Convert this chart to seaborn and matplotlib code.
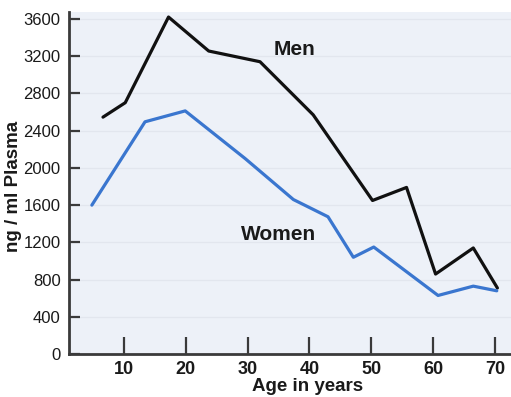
import numpy as np
import pandas as pd
import seaborn as sns
import matplotlib.pyplot as plt

# values
men_age = [6.6, 10.2, 17.2, 23.7, 32.0, 40.6, 50.2, 55.7, 60.4, 66.5, 70.4]
men_level = [2545, 2700, 3620, 3255, 3140, 2570, 1650, 1790, 860, 1140, 710]
women_age = [4.8, 13.4, 19.9, 29.6, 37.4, 43.0, 47.1, 50.4, 60.8, 66.5, 70.3]
women_level = [1600, 2495, 2612, 2100, 1660, 1475, 1040, 1150, 630, 730, 680]

x_ticks = [10, 20, 30, 40, 50, 60, 70]
y_ticks = [0, 400, 800, 1200, 1600, 2000, 2400, 2800, 3200, 3600]

custom_params = {
    "axes.spines.right": False,
    "axes.spines.top": False,
    "axes.facecolor": "#edf1f8",
    "axes.edgecolor": "#3a3a3a",
    "axes.linewidth": 2.0,
}
sns.set_theme(style="ticks", rc=custom_params)
plt.rcParams["font.family"] = ["Liberation Sans", "DejaVu Sans"]

fig = plt.figure(figsize=(5.11, 3.97), dpi=100)
ax = fig.add_axes([0.135, 0.108, 0.865, 0.862])

df_men = pd.DataFrame({"age": men_age, "level": men_level})
df_women = pd.DataFrame({"age": women_age, "level": women_level})

sns.lineplot(data=df_men, x="age", y="level", color="#111111", linewidth=2.3, ax=ax)
sns.lineplot(data=df_women, x="age", y="level", color="#3a76cf", linewidth=2.3, ax=ax)

ax.set_xlim(1.1, 72.6)
ax.set_ylim(0, 3675)
ax.set_xticks(x_ticks)
ax.set_yticks(y_ticks)
ax.yaxis.grid(True, color="#e2e6ee", linewidth=0.9)
ax.set_axisbelow(True)

ax.tick_params(axis="x", direction="in", length=12, width=1.6, color="#3a3a3a",
               pad=5, labelsize=13, labelcolor="#1a1a1a")
ax.tick_params(axis="y", direction="in", length=8, width=1.6, color="#3a3a3a",
               pad=6, labelsize=12, labelcolor="#1a1a1a")
for lab in ax.get_xticklabels():
    lab.set_fontweight("bold")

ax.set_xlabel("Age in years", fontsize=13.5, fontweight="bold", color="#1a1a1a")
ax.xaxis.set_label_coords(0.54, -0.07)
ax.set_ylabel("ng / ml Plasma", fontsize=13.5, fontweight="bold", color="#1a1a1a", va="center")
ax.yaxis.set_label_coords(-0.125, 0.49)

ax.text(37.65, 3267, "Men", fontsize=15, fontweight="bold", color="#1a1a1a",
        ha="center", va="center")
ax.text(35.0, 1285, "Women", fontsize=15, fontweight="bold", color="#1a1a1a",
        ha="center", va="center")

fig.savefig("out.png", dpi=100)
